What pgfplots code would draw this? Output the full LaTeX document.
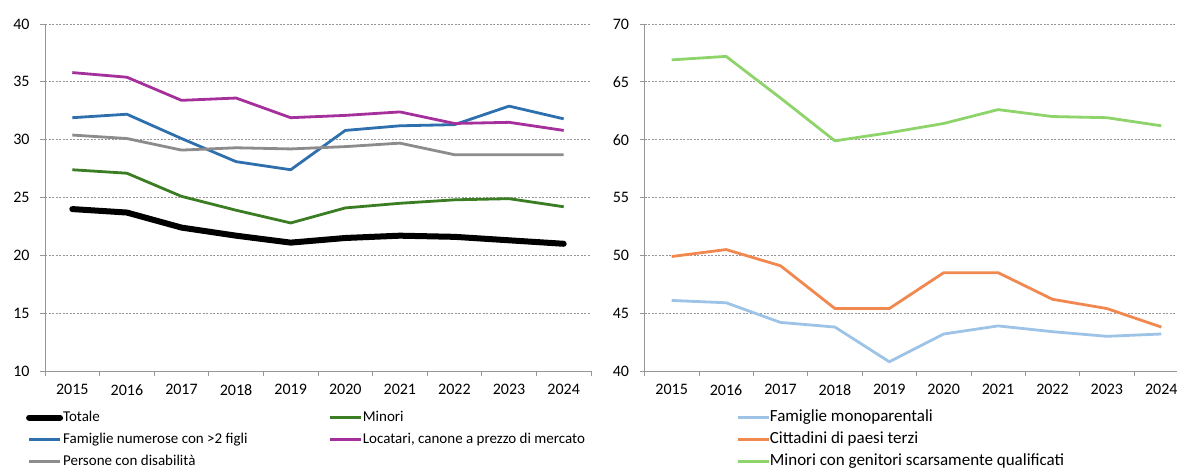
\documentclass[border=0pt]{standalone}
\usepackage{pgfplots}
\pgfplotsset{compat=1.18}
\usepackage{fontspec}
\setmainfont{Carlito}

\definecolor{cTot}{RGB}{0,0,0}
\definecolor{cMin}{RGB}{59,125,35}
\definecolor{cNum}{RGB}{46,111,173}
\definecolor{cLoc}{RGB}{165,48,156}
\definecolor{cDis}{RGB}{140,140,140}
\definecolor{cMono}{RGB}{157,195,230}
\definecolor{cCit}{RGB}{240,136,79}
\definecolor{cGen}{RGB}{142,212,107}
\definecolor{axisgray}{RGB}{150,150,150}

\pgfplotsset{
  panel/.style={
    scale only axis, height=347pt,
    xmin=2014.5, xmax=2024.5,
    xtick={2015,...,2024},
    minor xtick={2014.5,2015.5,...,2024.5},
    /pgf/number format/1000 sep={},
    /pgf/number format/assume math mode=true,
    axis x line*=bottom, axis y line*=left,
    axis line style={draw=axisgray, line width=0.8pt, -},
    tick style={draw=axisgray, line width=0.8pt},
    major x tick style={draw=none},
    tick align=outside,
    major tick length=5pt, minor tick length=5pt,
    ymajorgrids,
    major grid style={draw=axisgray, line width=0.7pt, dash pattern=on 2pt off 1.5pt},
    ticklabel style={font=\fontsize{16}{18}\selectfont},
    xticklabel style={yshift=-5pt},
    yticklabel style={xshift=-7pt},
    legend columns=2,
    legend cell align=left,
    legend image code/.code={\draw[##1] (0pt,0pt) -- (31pt,0pt);},
    legend style={draw=none, fill=none, inner sep=0pt, anchor=north west,
      column sep=0pt, row sep=8pt,
      nodes={inner sep=0pt, text height=11pt, text depth=3pt}},
  },
}

\begin{document}
\begin{tikzpicture}
\path[use as bounding box] (0pt,0pt) rectangle (1177pt,-467pt);

% left panel
\begin{axis}[panel,
  at={(45pt,-371pt)}, anchor=south west, width=546pt,
  ymin=10, ymax=40, ytick={10,15,...,40},
  legend style={at={(-0.035,-0.114)},
    font=\fontsize{15}{17}\selectfont},
]
\addplot[cTot, line width=6pt, line join=round, line cap=round] coordinates {
(2015,24.0) (2016,23.7) (2017,22.4) (2018,21.7) (2019,21.1)
(2020,21.5) (2021,21.7) (2022,21.6) (2023,21.3) (2024,21.0)};
\addlegendentry{\makebox[266pt][l]{Totale}}
\addplot[cMin, line width=2.8pt, line join=round] coordinates {
(2015,27.4) (2016,27.1) (2017,25.1) (2018,23.9) (2019,22.8)
(2020,24.1) (2021,24.5) (2022,24.8) (2023,24.9) (2024,24.2)};
\addlegendentry{Minori}
\addplot[cNum, line width=2.8pt, line join=round] coordinates {
(2015,31.9) (2016,32.2) (2017,30.1) (2018,28.1) (2019,27.4)
(2020,30.8) (2021,31.2) (2022,31.3) (2023,32.9) (2024,31.8)};
\addlegendentry{\makebox[266pt][l]{Famiglie numerose con >2 figli}}
\addplot[cLoc, line width=2.8pt, line join=round] coordinates {
(2015,35.8) (2016,35.4) (2017,33.4) (2018,33.6) (2019,31.9)
(2020,32.1) (2021,32.4) (2022,31.4) (2023,31.5) (2024,30.8)};
\addlegendentry{Locatari, canone a prezzo di mercato}
\addplot[cDis, line width=2.8pt, line join=round] coordinates {
(2015,30.4) (2016,30.1) (2017,29.1) (2018,29.3) (2019,29.2)
(2020,29.4) (2021,29.7) (2022,28.7) (2023,28.7) (2024,28.7)};
\addlegendentry{\makebox[266pt][l]{Persone con disabilità}}
\end{axis}

% right panel
\begin{axis}[panel,
  at={(644.5pt,-371pt)}, anchor=south west, width=544pt,
  ymin=40, ymax=70, ytick={40,45,...,70},
  legend columns=1,
  legend style={at={(0.168,-0.114)},
    font=\fontsize{17}{19}\selectfont},
]
\addplot[cMono, line width=2.8pt, line join=round] coordinates {
(2015,46.1) (2016,45.9) (2017,44.2) (2018,43.8) (2019,40.8)
(2020,43.2) (2021,43.9) (2022,43.4) (2023,43.0) (2024,43.2)};
\addlegendentry{Famiglie monoparentali}
\addplot[cCit, line width=2.8pt, line join=round] coordinates {
(2015,49.9) (2016,50.5) (2017,49.1) (2018,45.4) (2019,45.4)
(2020,48.5) (2021,48.5) (2022,46.2) (2023,45.4) (2024,43.8)};
\addlegendentry{Cittadini di paesi terzi}
\addplot[cGen, line width=2.8pt, line join=round] coordinates {
(2015,66.9) (2016,67.2) (2017,63.6) (2018,59.9) (2019,60.6)
(2020,61.4) (2021,62.6) (2022,62.0) (2023,61.9) (2024,61.2)};
\addlegendentry{Minori con genitori scarsamente qualificati}
\end{axis}
\end{tikzpicture}
\end{document}
